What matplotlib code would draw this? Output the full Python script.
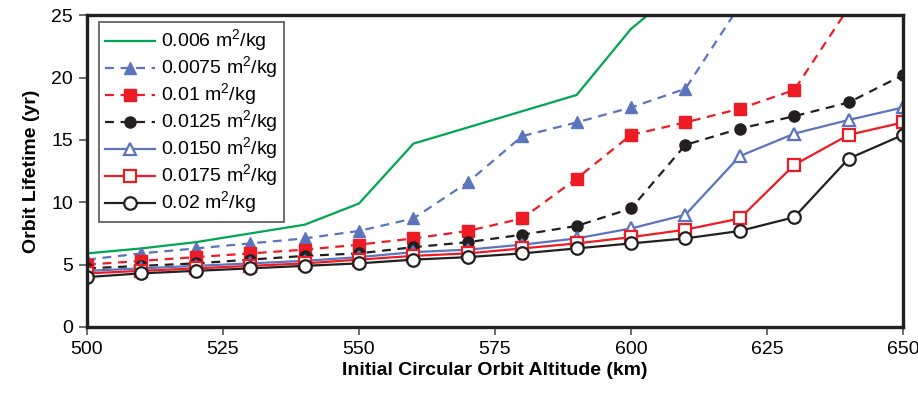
import matplotlib
matplotlib.use("Agg")
import matplotlib.pyplot as plt

# altitude (km)
altitude = [500, 510, 520, 530, 540, 550, 560, 570, 580, 590, 600, 610, 620, 630, 640, 650]

# orbit lifetime (yr) per ballistic coefficient; values above 25 run off the top
life_0060 = [5.9, 6.3, 6.8, 7.5, 8.2, 9.9, 14.7, 16.0, 17.3, 18.6, 23.9, 27.5]
life_0075 = [5.4, 5.9, 6.3, 6.7, 7.1, 7.7, 8.7, 11.6, 15.3, 16.4, 17.6, 19.1, 25.8, 33.0]
life_0100 = [5.0, 5.3, 5.6, 5.9, 6.2, 6.6, 7.1, 7.7, 8.7, 11.9, 15.4, 16.4, 17.5, 19.0, 25.6, 32.0]
life_0125 = [4.7, 4.9, 5.1, 5.4, 5.7, 5.9, 6.4, 6.8, 7.4, 8.1, 9.5, 14.6, 15.9, 16.9, 18.0, 20.2]
life_0150 = [4.5, 4.7, 4.9, 5.1, 5.3, 5.6, 6.0, 6.2, 6.6, 7.1, 7.9, 9.0, 13.7, 15.5, 16.6, 17.6]
life_0175 = [4.3, 4.5, 4.7, 4.9, 5.1, 5.4, 5.7, 5.9, 6.3, 6.7, 7.2, 7.8, 8.7, 13.0, 15.4, 16.4]
life_0200 = [4.0, 4.3, 4.5, 4.7, 4.9, 5.1, 5.4, 5.6, 5.9, 6.3, 6.7, 7.1, 7.7, 8.8, 13.5, 15.4]

labels = ["0.006 m$^2$/kg", "0.0075 m$^2$/kg", "0.01 m$^2$/kg", "0.0125 m$^2$/kg",
          "0.0150 m$^2$/kg", "0.0175 m$^2$/kg", "0.02 m$^2$/kg"]

green = "#00a651"
blue = "#5b74bd"
red = "#ed1c24"
black = "#231f20"

plt.rcParams["font.family"] = ["Liberation Sans", "DejaVu Sans"]
plt.rcParams["mathtext.fontset"] = "custom"
plt.rcParams["mathtext.rm"] = "Liberation Sans"

fig = plt.figure(figsize=(9.18, 3.99), dpi=100)
ax = fig.add_axes([0.0948, 0.1805, 0.8889, 0.7815])

dash = (0, (4, 3))
ax.plot(altitude[:len(life_0060)], life_0060, color=green, lw=1.6, label=labels[0])
ax.plot(altitude[:len(life_0075)], life_0075, color=blue, lw=1.6, ls=dash,
        marker="^", ms=8.5, mfc=blue, mec=blue, label=labels[1])
ax.plot(altitude[:len(life_0100)], life_0100, color=red, lw=1.6, ls=dash,
        marker="s", ms=8, mfc=red, mec=red, label=labels[2])
ax.plot(altitude, life_0125, color=black, lw=1.6, ls=dash,
        marker="o", ms=8, mfc=black, mec=black, label=labels[3])
ax.plot(altitude, life_0150, color=blue, lw=1.6,
        marker="^", ms=9, mfc="white", mec=blue, mew=1.6, label=labels[4])
ax.plot(altitude, life_0175, color=red, lw=1.6,
        marker="s", ms=8.5, mfc="white", mec=red, mew=1.6, label=labels[5])
ax.plot(altitude, life_0200, color=black, lw=1.6,
        marker="o", ms=9, mfc="white", mec=black, mew=1.6, label=labels[6])

ax.set_xlim(500, 650)
ax.set_ylim(0, 25)
ax.set_xticks([500, 525, 550, 575, 600, 625, 650])
ax.set_yticks([0, 5, 10, 15, 20, 25])
ax.tick_params(direction="out", length=6, width=1.2, color="#555555",
               labelsize=14, pad=4)
for s in ax.spines.values():
    s.set_linewidth(2.4)
    s.set_color(black)

ax.set_xlabel("Initial Circular Orbit Altitude (km)", fontsize=14, fontweight="bold", labelpad=3)
ax.set_ylabel("Orbit Lifetime (yr)", fontsize=14, fontweight="bold", labelpad=8)

leg = ax.legend(loc="upper left", bbox_to_anchor=(0.0147, 0.978), fontsize=14,
                frameon=True, fancybox=False, edgecolor="#555555", framealpha=1,
                handlelength=2.6, handletextpad=0.3, labelspacing=0.02,
                borderpad=0.3, borderaxespad=0)
leg.get_frame().set_linewidth(1.2)

fig.savefig("out.png", dpi=100)
